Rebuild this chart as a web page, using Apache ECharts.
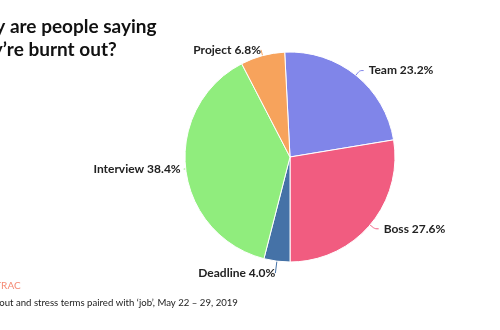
<!DOCTYPE html>
<html>
<head>
<meta charset="utf-8">
<script src="https://cdn.jsdelivr.net/npm/echarts@6/dist/echarts.min.js"></script>
<style>
  html, body { margin: 0; padding: 0; background: #fff; }
  #chart { width: 500px; height: 330px; }
</style>
</head>
<body>
<div id="chart"></div>
<script>
// Reasons given for burnout, share of mentions (%)
const categories = ['Team', 'Boss', 'Deadline', 'Interview', 'Project'];
const shares = [23.2, 27.6, 4.0, 38.4, 6.8];
const colors = ['#8085e9', '#f15c80', '#4572a7', '#90ed7d', '#f7a35c'];
// connector per slice: [radial length, horizontal length, gap before text]
const connectors = [[6, 4, 5], [6, 4, 5], [12, 0, 0], [2, 0, 3], [6, 0, 0]];

const titleText = 'Why are people saying\nthey\u2019re burnt out?';
const sourceText = 'NETBASE TRAC';
const noteText = 'Burnout and stress terms paired with \u2018job\u2019, May 22 \u2013 29, 2019';

const chart = echarts.init(document.getElementById('chart'), null, { renderer: 'canvas' });

chart.setOption({
  animation: false,
  backgroundColor: '#ffffff',
  title: [
    {
      text: titleText,
      left: -40,
      top: 10,
      textStyle: { fontFamily: 'Lato', fontWeight: 'bold', fontSize: 19, color: '#111', lineHeight: 23 }
    },
    {
      text: sourceText,
      left: -56,
      top: 276,
      textStyle: { fontFamily: 'Lato', fontWeight: 'normal', fontSize: 10, color: '#f58a74' }
    },
    {
      text: noteText,
      left: -26,
      top: 293,
      textStyle: { fontFamily: 'Lato', fontWeight: 'normal', fontSize: 9.6, color: '#222' }
    }
  ],
  series: [{
    type: 'pie',
    center: [290, 157],
    radius: 105,
    startAngle: 92.9,
    clockwise: true,
    itemStyle: { borderColor: '#ffffff', borderWidth: 1 },
    label: {
      show: true,
      formatter: p => p.name + ' ' + p.value.toFixed(1) + '%',
      fontFamily: 'Lato',
      fontWeight: 'bold',
      fontSize: 12,
      color: '#222'
    },
    labelLine: { show: true, smooth: true, lineStyle: { width: 1 } },
    data: categories.map((name, i) => ({
      name,
      value: shares[i],
      itemStyle: { color: colors[i] },
      label: { distanceToLabelLine: connectors[i][2] },
      labelLine: { length: connectors[i][0], length2: connectors[i][1] }
    }))
  }]
});
</script>
</body>
</html>
